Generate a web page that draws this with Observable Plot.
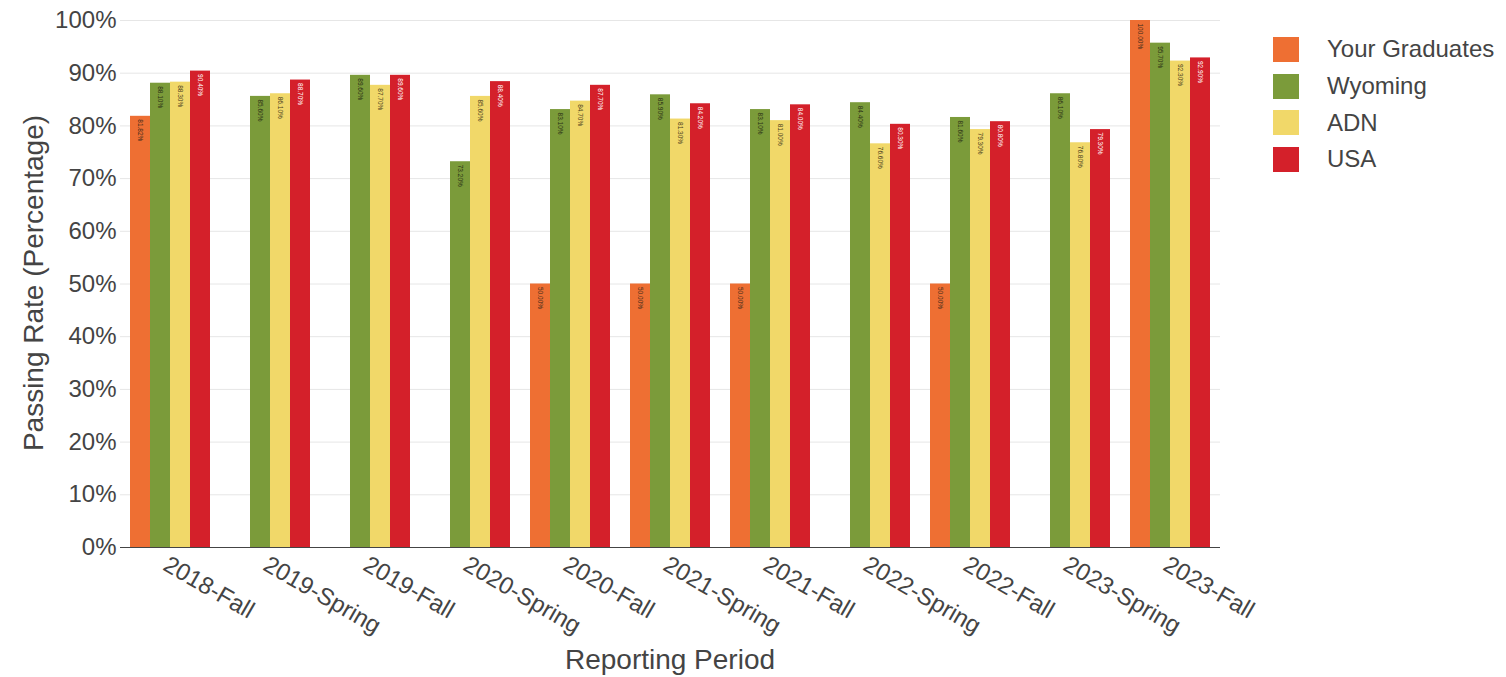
<!DOCTYPE html>
<html>
<head>
<meta charset="utf-8">
<script src="https://cdn.jsdelivr.net/npm/d3@7"></script>
<script src="https://cdn.jsdelivr.net/npm/@observablehq/plot@0.6"></script>
<style>
  body { margin: 0; background: #fff; font-family: "Liberation Sans", Arial, sans-serif; }
  #wrap { position: relative; width: 1506px; height: 677px; overflow: hidden; }
  #chart svg { display: block; }
  .ytitle { position: absolute; left: 34px; top: 283px; transform: translate(-50%, -50%) rotate(-90deg); font-size: 28px; color: #444; white-space: nowrap; }
  .xtitle { position: absolute; left: 670px; top: 660px; transform: translate(-50%, -50%); font-size: 28px; color: #444; white-space: nowrap; }
  #legend { position: absolute; left: 1273px; top: 31px; }
  .item { display: flex; align-items: center; height: 36.7px; font-size: 24px; color: #444; white-space: nowrap; }
  .sw { width: 26px; height: 25px; margin-right: 28px; flex: none; }
</style>
</head>
<body>
<div id="wrap">
  <div id="chart"></div>
  <div class="ytitle">Passing Rate (Percentage)</div>
  <div class="xtitle">Reporting Period</div>
  <div id="legend"></div>
</div>
<script>
const periods = ["2018-Fall","2019-Spring","2019-Fall","2020-Spring","2020-Fall","2021-Spring","2021-Fall","2022-Spring","2022-Fall","2023-Spring","2023-Fall"];
const seriesNames = ["Your Graduates","Wyoming","ADN","USA"];
const seriesColors = ["#EE6F33","#7B9B3A","#F1D869","#D4202A"];
const labelColors = ["#3a2a1a","#2a3015","#4a4020","#ffffff"];
const yourGraduates = [81.82, null, null, null, 50, 50, 50, null, 50, null, 100];
const wyoming       = [88.1, 85.6, 89.6, 73.2, 83.1, 85.9, 83.1, 84.4, 81.6, 86.1, 95.7];
const adn           = [88.3, 86.1, 87.7, 85.6, 84.7, 81.3, 81.0, 76.6, 79.3, 76.8, 92.3];
const usa           = [90.4, 88.7, 89.6, 88.4, 87.7, 84.2, 84.0, 80.3, 80.8, 79.3, 92.9];
const yTicks = [0,10,20,30,40,50,60,70,80,90,100];

const valuesBySeries = [yourGraduates, wyoming, adn, usa];
const data = [];
periods.forEach((p, i) => {
  seriesNames.forEach((s, j) => {
    const v = valuesBySeries[j][i];
    if (v != null) data.push({period: p, series: s, value: v});
  });
});

const labelColor = d => labelColors[seriesNames.indexOf(d.series)];

const chart = Plot.plot({
  width: 1506,
  height: 677,
  marginLeft: 116,
  marginRight: 282,
  marginTop: 20,
  marginBottom: 130,
  style: { fontFamily: "'Liberation Sans', Arial, sans-serif", color: "#444", background: "#fff" },
  fx: { domain: periods, padding: 0 },
  x: { domain: seriesNames, paddingInner: 0, paddingOuter: 0.48, axis: null },
  y: { domain: [0, 100] },
  color: { domain: seriesNames, range: seriesColors },
  marks: [
    Plot.gridY(yTicks, { stroke: "#e6e6e6", strokeOpacity: 1 }),
    Plot.barY(data, { fx: "period", x: "series", y: "value", fill: "series" }),
    Plot.text(data, {
      fx: "period", x: "series", y: "value",
      text: d => d.value.toFixed(2) + "%",
      rotate: 90, textAnchor: "start", dy: 3,
      fontSize: 6.5, fill: labelColor
    }),
    Plot.ruleY([0], { stroke: "#444", strokeWidth: 1.2 }),
    Plot.axisY(yTicks, { tickFormat: d => d + "%", tickSize: 0, tickPadding: 4, fontSize: 24, label: null, color: "#444" }),
    Plot.axisFx({ anchor: "bottom", tickRotate: 30, tickSize: 0, tickPadding: 15, dx: -5, fontSize: 24, label: null, color: "#444" })
  ]
});
document.getElementById("chart").appendChild(chart);

const legend = document.getElementById("legend");
seriesNames.forEach((s, i) => {
  const item = document.createElement("div");
  item.className = "item";
  const sw = document.createElement("div");
  sw.className = "sw";
  sw.style.background = seriesColors[i];
  const t = document.createElement("span");
  t.textContent = s;
  item.appendChild(sw);
  item.appendChild(t);
  legend.appendChild(item);
});
</script>
</body>
</html>
